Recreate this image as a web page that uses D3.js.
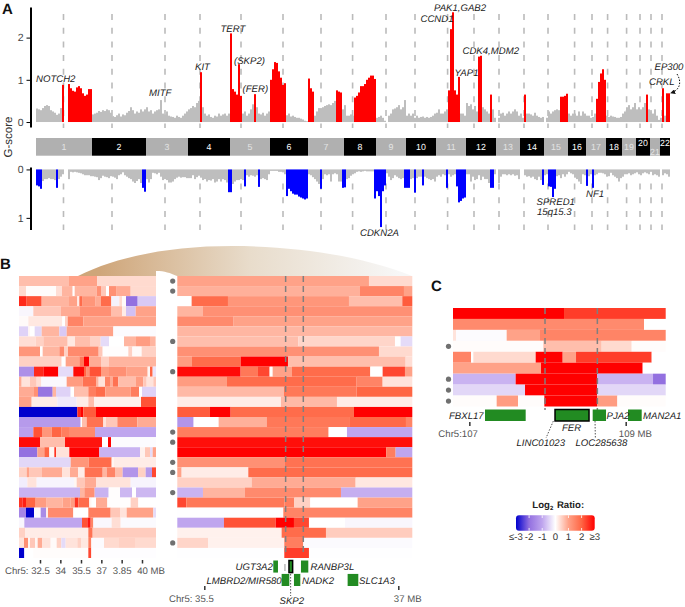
<!DOCTYPE html>
<html>
<head>
<meta charset="utf-8">
<script src="https://d3js.org/d3.v7.min.js"></script>
<style>
  body { margin: 0; background: #fff; }
  svg { display: block; font-family: "Liberation Sans", Arial, sans-serif; text-rendering: geometricPrecision; }
</style>
</head>
<body>
<div id="chart"></div>
<script>
// G-score per 2-wide genome bin, one row per chromosome
const ampByChrom = [
  [.32,.3,.28,.33,.38,.4,.38,.28,.25,.22,.17,.2,.33,.88,0,0,.9,.8,.74,.72,.82,.85,.8,.68,.62,.65,.78,.78],
  [.18,.2,.22,.26,.24,.28,.26,.3,.28,.22,.14,.12,.16,.2,.13,.18,.16,.22,.26,.35,.28,.2,.25,.22,.3,.25,.3],
  [.35,.25,.28,.2,.25,.28,.3,.52,.2,.18,.25,.15,.13,.12,.1,.15,.12,.1,.15,.2,.25],
  [.3,.33,.38,.35,.45,.5,1.18,.35,.2,.15,.18,.12,.1,.15,.13,.2,.15,.18,.2,.15,.2],
  [2.1,.78,.72,.65,1.37,.62,.2,.25,.15,.2,.3,.42,.66,.35,.2,.18,.22,.15,.2,.25],
  [1.0,1.25,1.42,1.4,1.2,1.05,.88,.92,.16,.2,.13,.15,.12,.1,.1,.08,.06,.03,.02],
  [1.03,.8,.72,.15,.25,.33,.33,.35,.38,.4,.42,.4,.45,.5,.75,.72,.7,.3],
  [.4,.15,.15,.18,.15,.58,.62,.7,.85,.85,.9,1.0,1.05,1.1,1.1,1.02],
  [.1,.12,.15,.1,.03,0,.15,.2,.3,.32,.35,.4,.3,.35,.52],
  [.15,.2,.15,.2,.1,.15,.1,.12,.13,.1,.12,.1,.12,.15,.2],
  [.22,.3,.2,.2,.25,.3,.75,2.2,2.6,.75,.65,1.07,.2,.2,.15],
  [.45,.38,.42,.3,.38,.25,1.55,1.57,.35,.3,.25,.2,.65,.3,.1],
  [0,.1,.2,.22,.15,.2,.25,.2,.25,.3,.25,.15],
  [.2,.1,.65,.2,.2,.18,.15,.22,.15,.12,.1,.12],
  [0,.1,.25,.2,.25,.28,.3,.28,.6,.6,.62,.67],
  [.2,.15,.2,.2,.15,.25,.15,.25,.2],
  [.15,.15,.1,.12,.2,.55,.95,1.15,1.25,1.0],
  [.15,.12,.15,.13,.12,.1,.1,.12],
  [.2,.25,.35,.4,.3,.35,.45],
  [.3,.35,.3,.35,.45,.65,.3],
  [.25,.2,.3,.15,.05],
  [.1,.8,.15,.68,.68]
];
const delByChrom = [
  [.33,.35,.4,.24,.2,.2,.18,.2,.2,.22,.38,.2,.15,.1,0,0,.2,.05,.06,.05,.06,.07,.08,.1,.12,.12,.12,.14],
  [.14,.15,.16,.22,.18,.13,.15,.16,.18,.14,.15,.17,.2,.12,.1,.06,.12,.15,.18,.2,.25,.28,.24,.2,.28,.38,.46],
  [.2,.27,.2,.07,.08,.1,.07,.15,.22,.2,.22,.27,.27,.25,.2,.17,.15,.17,.16,.16,.18],
  [.18,.18,.12,.2,.16,.13,.17,.22,.2,.25,.22,.23,.2,.27,.25,.2,.25,.2,.22,.27,.47],
  [.47,.3,.25,.22,.22,.2,.22,.35,.12,.15,.12,.13,.15,.12,.36,.2,.18,.2,.22,.1],
  [.03,.03,.03,.03,.05,.05,.06,.1,.55,.4,.45,.5,.52,.52,.56,.58,.6,.62,.6],
  [.1,.12,.16,.2,.25,.3,.4,.2,.1,.12,.1,.25,.1,.08,.1,.25,.25,.38],
  [.37,.2,.18,.13,.1,.08,.05,.04,.05,.04,.03,.04,.04,.04,.04,.6],
  [.45,.55,1.19,.45,.33,.08,.15,.22,.18,.12,.15,.18,.2,.18,.38],
  [.38,.38,.2,.18,.48,.18,.15,.15,.33,.15,.18,.2,.22,.2,.25],
  [.15,.12,.15,.1,.12,.38,.1,.15,.12,.1,.35,.68,.65,.6,.58],
  [.1,.1,.25,.15,.22,.2,.12,.22,.15,.2,.2,.28,.38,.38,.1],
  [0,.28,.15,.1,.1,.12,.1,.12,.1,.13,.12,.2],
  [0,0,.12,.15,.14,.17,.15,.2,.22,.15,.22,.32],
  [.12,.1,.35,.36,.57,.4,.14,.12,.18,.1,.15,.1],
  [.05,.08,.1,.17,.2,.25,.3,.1,.12],
  [.34,.14,.1,.38,.12,.1,.07,.07,.08,.1],
  [.15,.14,.07,.12,.15,.18,.25,.18],
  [.15,.1,.1,.08,.12,.1,.08],
  [.06,.1,.12,.08,.06,.08,.1],
  [.05,.12,.1,.12,.15],
  [0,.12,.08,.1,.15]
];
// significant regions as [first bin, last bin]
const ampPeaks = [[13,13],[16,27],[82,82],[97,102],[109,109],[117,124],[136,138],[150,152],[159,169],[206,211],[221,222],[227,227],[244,244],[262,265],[280,284],[305,305],[313,313],[315,316]];
const delPeaks = [[0,2],[10,10],[53,54],[96,97],[104,104],[111,111],[125,135],[142,142],[153,154],[169,174],[184,186],[189,189],[193,193],[205,205],[210,214],[227,228],[253,253],[256,259],[275,275],[278,278]];
const chromNames = ["1","2","3","4","5","6","7","8","9","10","11","12","13","14","15","16","17","18","19","20","21","22"];
const centromeres = [13.75,38,64.5,82,102.5,123.5,142.5,158.3,175,189.5,205.8,219,231.5,244,256,269.3,278,285.8,295.3,302,307.5,313];

// Panel B, left: each row is a list of [segment end probe, log2 ratio]
const leftRows = [
  [[207,.7],[292,1],[468,.4]],
  [[78,.4],[168,.03],[186,.35],[218,.8],[224,0],[290,.8],[303,1.3],[318,.6],[327,0],[350,1.3],[392,.9],[468,.4]],
  [[80,2.6],[125,2.2],[207,.8],[232,1],[238,.2],[248,1.9],[287,1.2],[303,.9],[334,1.9],[358,-.15],[366,.4],[378,.05],[413,-2],[468,-.6]],
  [[100,-.1],[182,.6],[240,.9],[333,1.3],[366,.7],[378,.2],[407,-.7],[468,1]],
  [[85,.05],[187,.25],[195,0],[203,.5],[250,1.5],[468,1]],
  [[85,-.5],[90,.1],[104,0],[125,-.45],[178,.8],[200,-.6],[340,1],[468,-.05]],
  [[107,.35],[130,.5],[203,.7],[225,.25],[270,.7],[302,.5],[327,-.4],[372,0],[408,.8],[450,1.1],[465,.8],[468,.5]],
  [[120,1.2],[128,0],[178,.8],[192,1.4],[204,.5],[296,1.4],[308,.6],[385,.02],[397,.5],[425,.05],[468,.5]],
  [[185,.5],[197,0],[238,1],[252,1.7],[267,3],[303,.9],[326,.5],[468,.8]],
  [[102,-1.4],[130,2.6],[175,3],[220,-.4],[252,2.9],[260,2],[268,1.3],[303,2.2],[327,1.1],[380,1.3],[443,1],[450,.1],[458,2],[468,-.3]],
  [[65,.9],[90,.3],[110,.6],[124,.35],[200,-.08],[248,1.1],[288,1.8],[296,.8],[315,.3],[330,1.5],[338,.9],[355,1.8],[408,.7],[430,1.1],[440,.6],[460,.3],[468,.6]],
  [[100,.9],[114,1.3],[158,-1.9],[168,.8],[212,-.5],[222,0],[265,.7],[288,1.6],[316,1.9],[392,1.1],[417,1.6],[426,0],[468,-.5]],
  [[95,1],[172,.2],[230,-.25],[265,.2],[282,.7],[423,.15],[468,2.2]],
  [[232,-3],[243,2.6],[250,3],[288,2.1],[468,3]],
  [[242,-1.2],[246,0],[260,.7],[310,1.8],[318,.3],[352,.6],[412,1.5],[468,.9]],
  [[100,-1.1],[126,2.2],[155,1.2],[185,2],[207,1.6],[285,1.4],[468,-1]],
  [[120,2.9],[195,.7],[306,2.8],[324,0],[333,3],[468,-.05]],
  [[112,-2],[133,1],[148,2],[163,.1],[168,2.5],[208,.3],[298,3],[420,-.85],[435,.15],[450,.6],[458,-.4],[468,1]],
  [[212,-.45],[266,1.2],[335,1.9],[342,.1],[468,.2]],
  [[80,.5],[87,1],[126,.6],[187,.9],[210,.3],[234,.9],[254,.2],[308,1.8],[320,.8],[345,1.5],[368,.7],[414,-1.3],[437,.5],[456,-1.2],[468,2.3]],
  [[82,-.2],[110,.3],[222,-.12],[230,.1],[255,.6],[288,.9],[392,.3],[468,-.12]],
  [[240,-.85],[253,.8],[284,1.3],[326,-.85],[360,.02],[396,-.8],[408,0],[468,-.8]],
  [[67,2.5],[78,2.7],[107,2],[140,1.1],[188,.8],[212,1],[224,1.1],[235,2.5],[268,1.9],[275,.1],[288,0],[322,.9],[392,.02],[415,.5],[468,0]],
  [[78,-1.6],[102,-3],[122,-.03],[138,-1.5],[144,.2],[220,1.4],[265,0],[332,1.6],[360,.6],[380,.3],[460,1],[468,-.4]],
  [[73,-.1],[246,-1],[262,2.2],[272,2.8],[280,1.5],[335,-.08],[362,.35],[468,-.06]],
  [[75,.5],[265,.2],[278,1.8],[468,.55]],
  [[72,.3],[84,1.3],[90,.1],[105,.6],[113,.1],[127,.9],[152,.3],[170,.05],[184,.5],[197,-.4],[232,.3],[243,.5],[265,.25],[274,1.6],[312,-.04],[357,.4],[405,.5],[468,.4]],
  [[73,-3],[100,0],[265,.03],[274,2.3],[468,-.02]]
];
const midRows = [
  [[612,1],[742,.4]],
  [[585,.85],[717,1.5],[742,1]],
  [[80,0],[189,1.9],[552,1.2],[712,.7],[742,2.1]],
  [[114,.8],[742,1.3]],
  [[206,1.4],[742,1]],
  [[742,.78]],
  [[400,.7],[690,.45],[707,0],[742,-.4]],
  [[642,1.3],[742,.4]],
  [[81,1.1],[227,1.9],[369,3],[722,.7],[742,.35]],
  [[227,2.9],[279,1.7],[314,2.3],[323,0],[381,1],[616,1.9],[653,0],[720,2.3],[742,1]],
  [[186,1.1],[575,1.9],[653,1.5],[742,.3]],
  [[357,.75],[575,1.7],[742,2]],
  [[348,.2],[516,.75],[742,.2]],
  [[135,2.1],[197,3],[567,1.9],[742,3]],
  [[86,-1.3],[161,0],[305,.85],[555,1.7],[723,1.95],[742,1.5]],
  [[491,1.6],[546,0],[742,-1]],
  [[742,2.85]],
  [[664,3],[692,1.6],[742,-1]],
  [[360,1.3],[742,1.8]],
  [[50,1],[250,.2],[742,1.9]],
  [[260,.5],[572,.9],[742,.25]],
  [[114,-.85],[240,.8],[528,1.4],[742,-.9]],
  [[64,2.3],[358,1.7],[388,1.6],[436,.5],[578,0],[742,1]],
  [[355,-.01],[742,1.5]],
  [[177,-1],[332,2.2],[387,3],[432,2.3],[540,0],[742,-.1]],
  [[350,.15],[483,1.9],[742,.55]],
  [[130,.45],[358,.15],[415,1.6],[742,-.06]],
  [[358,-.01],[432,2.4],[742,-.01]]
];
const midDotRows = [0,1,6,9,15,16,18,19,21,26];
const midMarks = [362,415];
const midGenes = [["UGT3A2",325,339,0],["SKP2",372,383,0],["RANBP3L",408,430,0],["LMBRD2/MIR580",350,373,1],["NADK2",387,406,1],["SLC1A3",548,580,1]];
const midTicks = [118,700];
const midTickLabels = ["Chr5: 35.5","37 MB"];
const leftTicks = [120,181,243,304,365,426];
const leftTickLabels = ["Chr5: 32.5","34","35.5","37","3.85","40 MB"];

// Panel C
const ferRows = [
  [[417,3],[722,2.4]],
  [[657,1.4],[722,0]],
  [[93,.3],[245,-.05],[345,1],[722,1.5]],
  [[355,.03],[530,.7],[620,.4],[722,.03]],
  [[138,1.5],[145,0],[332,.4],[413,3],[453,1],[680,2.4],[722,0]],
  [[348,1],[653,3],[722,0]],
  [[272,-.85],[516,3],[684,-.85],[722,-2]],
  [[300,-.45],[516,3],[722,-.45]],
  [[215,.03],[279,1.1],[358,.03],[516,3],[577,1.1],[722,.03]]
];
const ferDotRows = [3,6,7,8];
const ferMarks = [360,517];
const ferGenes = [["FBXL17",180,302],["FER",390,492],["LOC285638",503,543],["MAN2A1",609,650]];
const ferTicks = [133,602];
const ferTickLabels = ["Chr5:107","109 MB"];

const legendTicks = [-3,-2,-1,0,1,2,3];
const legendLabels = ["≤-3","-2","-1","0","1","2","≥3"];

// ---- setup ----
const width = 685, height = 607;
const svg = d3.select("#chart").append("svg").attr("width", width).attr("height", height);
const defs = svg.append("defs");

const color = d3.scaleLinear()
  .domain([-3,-2,-1,0,1,2,3])
  .range(["#0000cd","#9370e0","#bfa5ee","#ffffff","#ffa288","#ff6644","#ff0000"])
  .clamp(true);

function panelLabel(t, x, y) {
  svg.append("text").attr("x", x).attr("y", y).attr("font-size", 15).attr("font-weight", "bold").attr("fill", "#111").text(t);
}

function geneLabel(t, x, y, anchor) {
  svg.append("text").attr("x", x).attr("y", y).attr("font-size", 9.6).attr("font-style", "italic")
    .attr("fill", "#222").attr("text-anchor", anchor || "start").text(t);
}

// ---- Panel A ----
const ampScores = ampByChrom.flat();
const delScores = delByChrom.flat();
const bins = d3.range(ampScores.length);
const xBin = d3.scaleBand().domain(bins).range([36, 670]);
const xPos = d3.scaleLinear().domain([0, bins.length]).range([36, 670]);
const yAmp = d3.scaleLinear().domain([-0.118, 2.725]).range([127, 7]);
const yDel = d3.scaleLinear().domain([-0.05, 1.24]).range([167, 229.5]);
const inPeak = (peaks, i) => peaks.some(p => i >= p[0] && i <= p[1]);

// dashed centromere lines sit behind the profiles
[[14, 128], [183.5, 230]].forEach(r => {
  svg.append("g").selectAll("line").data(centromeres).join("line")
    .attr("x1", d => xPos(d)).attr("x2", d => xPos(d))
    .attr("y1", r[0]).attr("y2", r[1])
    .attr("stroke", "#bbb").attr("stroke-width", 1.6).attr("stroke-dasharray", "6,7.7");
});

svg.append("g").selectAll("rect").data(bins).join("rect")
  .attr("x", i => xBin(i)).attr("width", xBin.bandwidth())
  .attr("y", i => yAmp(ampScores[i]))
  .attr("height", i => yAmp(0) - yAmp(ampScores[i]))
  .attr("fill", i => inPeak(ampPeaks, i) ? "#ff0000" : "#bebebe");

svg.append("g").selectAll("rect").data(bins).join("rect")
  .attr("x", i => xBin(i)).attr("width", xBin.bandwidth())
  .attr("y", yDel(0))
  .attr("height", i => yDel(delScores[i]) - yDel(0))
  .attr("fill", i => inPeak(delPeaks, i) ? "#0000ff" : "#bebebe");

function gAxis(scale, ticks) {
  const g = svg.append("g").attr("transform", "translate(30.5,0)")
    .call(d3.axisLeft(scale).tickValues(ticks).tickFormat(d3.format("d")).tickSize(4).tickSizeOuter(0).tickPadding(3));
  g.select(".domain").attr("stroke", "#000").attr("stroke-width", 2);
  g.selectAll("line").attr("stroke", "#000");
  g.selectAll("text").attr("font-size", 10.5).attr("fill", "#444").attr("font-family", "Liberation Sans");
}
gAxis(yAmp, [0, 1, 2]);
gAxis(yDel, [0, 1]);

svg.append("text").attr("transform", "translate(12,137) rotate(-90)").attr("text-anchor", "middle")
  .attr("font-size", 11.5).attr("fill", "#333").text("G-score");

// chromosome strip
let binStart = 0;
const chromBands = ampByChrom.map((row, i) => {
  const band = { name: chromNames[i], start: binStart, end: binStart + row.length };
  binStart = band.end;
  return band;
});
svg.append("g").selectAll("rect").data(chromBands).join("rect")
  .attr("x", d => xPos(d.start)).attr("width", d => xPos(d.end) - xPos(d.start))
  .attr("y", 138).attr("height", 17.7)
  .attr("fill", (d, i) => i % 2 ? "#000" : "#b0b0b0");
svg.append("g").selectAll("text").data(chromBands).join("text")
  .attr("x", d => (xPos(d.start) + xPos(d.end)) / 2)
  .attr("y", d => d.name === "20" || d.name === "22" ? 146 : d.name === "21" ? 155 : 150)
  .attr("text-anchor", "middle").attr("font-size", 8.8)
  .attr("fill", (d, i) => i % 2 ? "#fff" : "#e4e4e4")
  .text(d => d.name);

geneLabel("NOTCH2", 36, 82);
geneLabel("MITF", 149, 96);
geneLabel("KIT", 195, 70);
geneLabel("TERT", 220.5, 32);
geneLabel("(SKP2)", 234, 64);
geneLabel("(FER)", 242.5, 92);
geneLabel("PAK1,GAB2", 434, 11);
geneLabel("CCND1", 420.5, 22);
geneLabel("CDK4,MDM2", 462.5, 54);
geneLabel("YAP1", 454.5, 76);
geneLabel("EP300", 654.5, 70);
geneLabel("CRKL", 649, 85);
geneLabel("CDKN2A", 360, 236);
geneLabel("SPRED1", 536.5, 205);
geneLabel("15q15.3", 537, 215);
geneLabel("NF1", 586, 196.5);

defs.append("marker").attr("id", "arrow").attr("viewBox", "0 0 6 6").attr("refX", 5).attr("refY", 3)
  .attr("markerWidth", 5).attr("markerHeight", 5).attr("orient", "auto")
  .append("path").attr("d", "M0,0L6,3L0,6Z").attr("fill", "#111");
svg.append("path").attr("d", "M677,74C682,82 680,90 671,93").attr("fill", "none")
  .attr("stroke", "#111").attr("stroke-width", 1).attr("stroke-dasharray", "1.5,1.5")
  .attr("marker-end", "url(#arrow)");

panelLabel("A", 2, 13.5);
panelLabel("B", 0, 269);
panelLabel("C", 431, 290.5);

// ---- fan between the two B heatmaps ----
const fan = defs.append("linearGradient").attr("id", "fan").attr("gradientUnits", "userSpaceOnUse")
  .attr("x1", 100).attr("x2", 400).attr("y1", 0).attr("y2", 0);
fan.append("stop").attr("offset", 0).attr("stop-color", "#cfa67a");
fan.append("stop").attr("offset", 0.5).attr("stop-color", "#e8dccb");
fan.append("stop").attr("offset", 1).attr("stop-color", "#f7f7f7");
svg.append("path")
  .attr("d", "M78,276C118,256 172,246 232,246C300,246 365,257 412,276L177,276C170,273 165,271 156,271L156,276Z")
  .attr("fill", "url(#fan)");

// ---- heatmaps ----
function drawHeat(rows, x, y) {
  const g = svg.append("g");
  rows.forEach((row, r) => {
    let start = x.domain()[0];
    row.forEach(seg => {
      g.append("rect")
        .attr("x", x(start)).attr("width", x(seg[0]) - x(start))
        .attr("y", y(r)).attr("height", y.bandwidth())
        .attr("fill", color(seg[1]));
      start = seg[0];
    });
  });
}

function drawMarks(marks, x, y1, y2) {
  svg.append("g").selectAll("line").data(marks).join("line")
    .attr("x1", d => x(d)).attr("x2", d => x(d))
    .attr("y1", y1).attr("y2", y2)
    .attr("stroke", "#7f7f7f").attr("stroke-width", 1.5).attr("stroke-dasharray", "6,4");
}

function drawDots(rows, cx, y) {
  svg.append("g").selectAll("circle").data(rows).join("circle")
    .attr("cx", cx).attr("cy", d => y(d) + y.bandwidth() / 2).attr("r", 2.6).attr("fill", "#707070");
}

function drawTicks(x, yPos, values, labels, dxFirst, dxLast, pad, size) {
  const g = svg.append("g").attr("transform", `translate(0,${yPos})`)
    .call(d3.axisBottom(x).tickValues(values).tickFormat((d, i) => labels[i]).tickSize(size).tickPadding(pad));
  g.select(".domain").remove();
  g.selectAll("line").attr("stroke", "#333").attr("stroke-width", 1.5);
  const last = values.length - 1;
  g.selectAll("text").attr("font-size", 9.6).attr("fill", "#555").attr("font-family", "Liberation Sans")
    .attr("text-anchor", (d, i) => i === 0 ? "end" : i === last ? "start" : "middle")
    .attr("dx", (d, i) => i === 0 ? dxFirst : i === last ? dxLast : 0);
}

const rowIds = d3.range(leftRows.length);
const yRow = d3.scaleBand().domain(rowIds).range([276, 558]);
const xLeft = d3.scaleLinear().domain([57, 468]).range([19, 156]);
const xMid = d3.scaleLinear().domain([37, 742]).range([177.3, 412.3]);

drawHeat(leftRows, xLeft, yRow);
drawHeat(midRows, xMid, yRow);
drawMarks(midMarks, xMid, 276, 556);
drawDots(midDotRows, 172.7, yRow);
drawTicks(xLeft, 560, leftTicks, leftTickLabels, 9.3, -5.3, 4, 3.5);
drawTicks(xMid, 586, midTicks, midTickLabels, 9, -5, 5, 4);

// gene track under the middle heatmap
const laneY = d3.scaleBand().domain([0, 1]).range([560.5, 586]).paddingInner(0.1);
svg.append("g").selectAll("rect").data(midGenes).join("rect")
  .attr("x", d => xMid(d[1])).attr("width", d => xMid(d[2]) - xMid(d[1]))
  .attr("y", d => laneY(d[3])).attr("height", laneY.bandwidth())
  .attr("fill", "#228b22")
  .attr("stroke", d => d[0] === "SKP2" ? "#000" : "none")
  .attr("stroke-width", 1.5);
svg.append("line").attr("x1", xMid(360)).attr("x2", xMid(360)).attr("y1", 564).attr("y2", 571).attr("stroke", "#999").attr("stroke-width", 1);
svg.append("line").attr("x1", xMid(377)).attr("x2", xMid(377)).attr("y1", 574).attr("y2", 596)
  .attr("stroke", "#555").attr("stroke-width", 1).attr("stroke-dasharray", "1.5,1.5");

geneLabel("UGT3A2", 235.5, 570);
geneLabel("RANBP3L", 310.5, 570);
geneLabel("LMBRD2/MIR580", 206.5, 584);
geneLabel("NADK2", 302, 584);
geneLabel("SLC1A3", 359, 584);
geneLabel("SKP2", 279.5, 604);

// ---- Panel C ----
const xFer = d3.scaleLinear().domain([84, 722]).range([453, 665.7]);
const yFer = d3.scaleBand().domain(d3.range(ferRows.length)).range([308, 406.5]);
drawHeat(ferRows, xFer, yFer);
drawMarks(ferMarks, xFer, 308, 410);
drawDots(ferDotRows, 448.5, yFer);
drawTicks(xFer, 422, ferTicks, ferTickLabels, 8, -7.4, 4, 4);

svg.append("g").selectAll("rect").data(ferGenes).join("rect")
  .attr("x", d => xFer(d[1])).attr("width", d => xFer(d[2]) - xFer(d[1]))
  .attr("y", 409.5).attr("height", 11.5)
  .attr("fill", "#228b22")
  .attr("stroke", d => d[0] === "FER" ? "#000" : "none")
  .attr("stroke-width", 1.5);

[[385, 408, 363, 438], [510, 408, 511, 438]].forEach(d => {
  svg.append("line").attr("x1", xFer(d[0])).attr("x2", xFer(d[2]))
    .attr("y1", d[1] + 13).attr("y2", d[3])
    .attr("stroke", "#555").attr("stroke-width", 1).attr("stroke-dasharray", "1.5,1.5");
});

geneLabel("FBXL17", 449, 418.5);
geneLabel("PJA2", 606.5, 418.5);
geneLabel("MAN2A1", 643, 418.5);
geneLabel("FER", 562, 431);
geneLabel("LINC01023", 516.5, 445.5);
geneLabel("LOC285638", 575.5, 445.5);

// ---- legend ----
const xLegend = d3.scaleLinear().domain([-3, 3]).range([516, 594.7]);
const legendGrad = defs.append("linearGradient").attr("id", "legendGrad");
legendTicks.forEach(v => {
  legendGrad.append("stop").attr("offset", (v + 3) / 6).attr("stop-color", color(v));
});
svg.append("rect").attr("x", xLegend(-3)).attr("y", 515.3).attr("width", xLegend(3) - xLegend(-3)).attr("height", 15.4)
  .attr("rx", 3).attr("fill", "url(#legendGrad)");
svg.append("g").selectAll("line").data(legendTicks.slice(1, -1).flatMap(v => [[v, 515.3, 518], [v, 528, 530.7]])).join("line")
  .attr("x1", d => xLegend(d[0])).attr("x2", d => xLegend(d[0]))
  .attr("y1", d => d[1]).attr("y2", d => d[2])
  .attr("stroke", "#fff").attr("stroke-width", 0.8);
svg.append("g").selectAll("text").data(legendTicks).join("text")
  .attr("x", d => xLegend(d)).attr("y", 540).attr("text-anchor", "middle")
  .attr("font-size", 9.6).attr("fill", "#333")
  .text((d, i) => legendLabels[i]);
const legendTitle = svg.append("text").attr("x", 532.3).attr("y", 508).attr("font-size", 9.6).attr("font-weight", "bold").attr("fill", "#222");
legendTitle.append("tspan").text("Log");
legendTitle.append("tspan").attr("font-size", 6).attr("dy", 2).text("2");
legendTitle.append("tspan").attr("dy", -2).attr("dx", 1).text(" Ratio:");
</script>
</body>
</html>
